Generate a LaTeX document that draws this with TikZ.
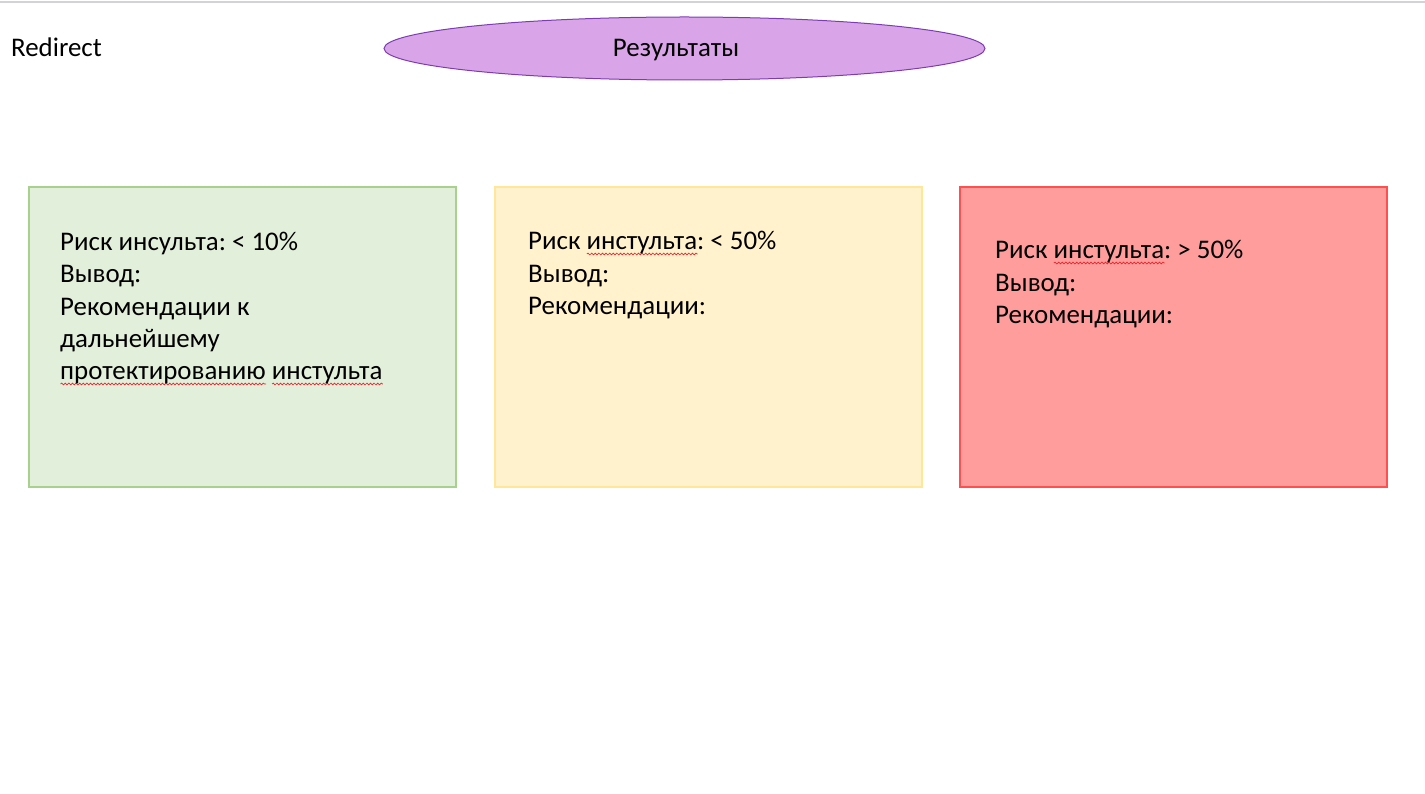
\documentclass[tikz,border=0pt]{standalone}
\usepackage{fontspec}
\setmainfont{Carlito}
\usetikzlibrary{decorations.pathmorphing,shapes.geometric}
\frenchspacing
\definecolor{topline}{HTML}{D2D2D8}
\definecolor{ellfill}{HTML}{DAA5E8}
\definecolor{elldraw}{HTML}{7D3CB0}
\definecolor{gfill}{HTML}{E2EFDA}
\definecolor{gdraw}{HTML}{A9D18E}
\definecolor{yfill}{HTML}{FFF2CC}
\definecolor{ydraw}{HTML}{FFE699}
\definecolor{rfill}{HTML}{FF9D9D}
\definecolor{rdraw}{HTML}{FF5050}
\definecolor{squigcol}{HTML}{E8262B}
\newsavebox\squigbox
\newlength\squiglen
\newcommand\mysquig[1]{\leavevmode\sbox\squigbox{#1}\setlength\squiglen{\wd\squigbox}%
  \rlap{\tikz[baseline={(0pt,4pt)}]\draw[squigcol,line width=0.7pt,decorate,decoration={snake,amplitude=0.9pt,segment length=3.6pt}] (0pt,0pt) -- (\squiglen,0pt);}%
  \usebox\squigbox}
\begin{document}
\begin{tikzpicture}[x=1pt,y=-1pt,
  card/.style={line width=1.5pt},
  cardtext/.style={font=\fontsize{26.9}{32.5}\selectfont\frenchspacing, align=left, inner sep=0pt, anchor=base west},
  plain/.style={font=\fontsize{26.9}{32.5}\selectfont, inner sep=0pt}]
\useasboundingbox[fill=white] (0,0) rectangle (1425,794);
\draw[topline,line width=2pt] (0,2) -- (1425,2);
\node[plain,anchor=base west] (redirect) at (11,57) {Redirect};
\node[ellipse,fill=ellfill,draw=elldraw,line width=1pt,minimum width=601pt,minimum height=63pt,inner sep=0pt] (res) at (684.5,48.5) {};
\node[plain,anchor=base] (restext) at (676,57) {Результаты};
\draw[card,fill=gfill,draw=gdraw] (29,187) rectangle (456,487);
\draw[card,fill=yfill,draw=ydraw] (495,187) rectangle (922,487);
\draw[card,fill=rfill,draw=rdraw] (960,187) rectangle (1387,487);
\node[cardtext] (gtext) at (60,380) {Риск инсульта: < 10\%\\Вывод:\\Рекомендации к\\дальнейшему\\\mysquig{протектированию} \mysquig{инстульта}};
\node[cardtext] (ytext) at (528,315) {Риск \mysquig{инстульта}: < 50\%\\Вывод:\\Рекомендации:};
\node[cardtext] (rtext) at (995,324) {Риск \mysquig{инстульта}: > 50\%\\Вывод:\\Рекомендации:};
\end{tikzpicture}
\end{document}
